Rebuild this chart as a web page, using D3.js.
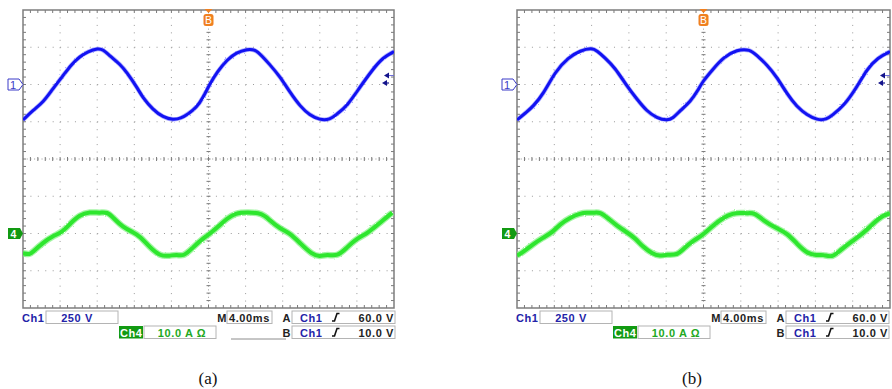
<!DOCTYPE html>
<html>
<head>
<meta charset="utf-8">
<script src="https://cdn.jsdelivr.net/npm/d3@7/dist/d3.min.js"></script>
<style>
  body { margin: 0; background: #fff; }
  svg { display: block; }
</style>
</head>
<body>
<script>
// time in ms across the 10 divisions (4.00 ms/div), Ch1 in V (250 V/div), Ch4 in A (10 A/div)
const aCh1 = [[0,-238],[1.1,-172],[2.2,-118],[3.2,-30],[4.2,50],[5.3,140],[6.1,186],[7.0,222],[8.1,242],[8.6,236],
  [9.4,190],[10.5,134],[11.2,81],[12.3,-20],[12.9,-87],[14.0,-168],[15.1,-220],[16.2,-238],[17.0,-228],[17.8,-198],
  [18.7,-155],[19.4,-90],[20.1,0],[21.0,90],[22.0,165],[23.0,215],[24.2,238],[25.0,236],[25.8,190],[26.6,134],
  [27.7,54],[28.8,-54],[29.9,-148],[30.9,-205],[32.0,-238],[33.1,-236],[33.8,-200],[34.9,-148],[36.3,-20],[37.7,101],
  [38.8,181],[40,221]];

const aCh4 = [[0,-5.3],[0.75,-5.7],[1.1,-4.8],[2.2,-2.4],[3.2,-0.7],[4.2,0.3],[5.1,2.7],[6.1,5.0],[7.2,5.8],[8.3,5.5],
  [9.1,5.8],[9.7,4.3],[10.8,1.6],[11.9,0.3],[12.6,-0.7],[13.7,-3.8],[14.8,-6.1],[15.8,-6.0],[16.6,-5.6],[17.3,-6.2],
  [18.3,-3.8],[19.4,-1.3],[20.2,0],[21.2,2.2],[22.0,4.0],[22.9,5.5],[24.2,5.7],[25.8,5.5],[26.6,3.5],[27.7,1.3],
  [28.8,0.1],[29.9,-2.7],[31.2,-5.7],[32.0,-6.2],[32.8,-5.6],[33.9,-6.2],[34.9,-3.8],[36.0,-1.3],[37.1,0],[37.7,1.3],
  [38.8,3.5],[39.8,5.6]];

const bCh1 = [[0,-238],[1.1,-181],[1.7,-148],[2.8,-67],[4.1,87],[5.5,181],[6.8,228],[8.0,246],[8.6,226],[9.4,181],
  [10.5,114],[11.8,-13],[12.9,-101],[13.9,-178],[15.0,-225],[16.1,-242],[16.7,-228],[17.5,-175],[18.6,-114],[19.4,-40],
  [19.9,20],[21.0,101],[22.1,181],[23.6,235],[25.0,236],[25.7,195],[26.8,134],[27.9,47],[29.0,-67],[30.0,-148],
  [31.1,-205],[32.2,-238],[33.2,-236],[33.8,-205],[35.0,-148],[36.5,-13],[37.5,101],[38.7,181],[40,221]];

const bCh4 = [[0,-5.9],[0.6,-5.1],[1.7,-2.9],[2.8,-1.1],[3.8,0.3],[4.6,2.5],[5.7,4.3],[6.8,5.4],[7.5,5.6],[8.2,5.5],
  [8.9,5.8],[9.8,4.0],[10.7,2.1],[11.8,0.3],[12.7,-1.3],[13.5,-3.6],[14.5,-5.4],[15.3,-6.1],[16.1,-5.6],[17.2,-5.8],
  [17.8,-4.2],[18.9,-1.9],[19.9,-0.5],[21.0,2.1],[22.1,4.3],[23.2,5.4],[23.9,5.6],[24.7,5.4],[25.5,5.6],[26.4,3.5],
  [27.9,1.3],[29.0,0],[30.0,-2.7],[31.1,-5.4],[32.2,-5.9],[32.8,-5.6],[33.8,-6.5],[34.6,-4.6],[36.0,-1.9],[37.1,0],
  [38.2,2.7],[39.2,4.8],[40,5.4]];

// readout labels
const ch1Scale = "250 V";
const ch4Scale = "10.0 A Ω";
const timeBase = "4.00ms";
const trigA = ["Ch1", "60.0 V"];
const trigB = ["Ch1", "10.0 V"];
const captions = ["(a)", "(b)"];

const W = 892, H = 389;
const Y0 = 10, Y1 = 308;
const panels = [
  {x0: 23, x1: 394, ch1: aCh1, ch4: aCh4, caption: captions[0], capX: 208, underline: true},
  {x0: 517, x1: 890, ch1: bCh1, ch4: bCh4, caption: captions[1], capX: 692, underline: false}
];

const svg = d3.select("body").append("svg").attr("width", W).attr("height", H);
const monoFont = "'Liberation Sans', Arial, sans-serif";
const navy = "#2323a8", grey = "#8c8c8c";

// fuzzy edge for the noisy traces
const fz = svg.append("defs").append("filter").attr("id", "fuzz")
  .attr("x", "-5%").attr("y", "-20%").attr("width", "110%").attr("height", "140%");
fz.append("feTurbulence").attr("type", "fractalNoise").attr("baseFrequency", 0.9).attr("numOctaves", 1)
  .attr("seed", 3).attr("result", "n");
fz.append("feDisplacementMap").attr("in", "SourceGraphic").attr("in2", "n").attr("scale", 2.5);

panels.forEach((p, i) => {
  const g = svg.append("g");
  const x = d3.scaleLinear().domain([0, 40]).range([p.x0, p.x1]);
  const yV = d3.scaleLinear().domain([500, -1500]).range([Y0, Y1]);
  const yA = d3.scaleLinear().domain([60, -20]).range([Y0, Y1]);
  const xMid = x(20), yMid = yV(-500);

  // dotted grid
  const vLines = d3.range(4, 40, 4).filter(t => t !== 20);
  const hLines = d3.range(250, -1500, -250).filter(v => v !== -500);
  const dotY = (yV(-250) - yV(0)) / 5, dotX = (x(4) - x(0)) / 5;
  g.selectAll(".vg").data(vLines).enter().append("line")
    .attr("x1", d => x(d)).attr("x2", d => x(d)).attr("y1", Y0).attr("y2", Y1)
    .attr("stroke", "#9a9a9a").attr("stroke-dasharray", `1 ${dotY - 1}`);
  g.selectAll(".hg").data(hLines).enter().append("line")
    .attr("y1", d => yV(d)).attr("y2", d => yV(d)).attr("x1", p.x0).attr("x2", p.x1)
    .attr("stroke", "#9a9a9a").attr("stroke-dasharray", `1 ${dotX - 1}`);

  // centre axes with minor ticks
  g.append("line").attr("x1", xMid).attr("x2", xMid).attr("y1", Y0).attr("y2", Y1)
    .attr("stroke", "#9a9a9a").attr("stroke-dasharray", `1 ${dotY / 2 - 1}`);
  g.append("line").attr("y1", yMid).attr("y2", yMid).attr("x1", p.x0).attr("x2", p.x1)
    .attr("stroke", "#9a9a9a").attr("stroke-dasharray", `1 ${dotX / 2 - 1}`);
  const minorT = d3.range(0.8, 40, 0.8);
  const minorV = d3.range(450, -1500, -50);
  g.selectAll(".mt").data(minorT).enter().append("line")
    .attr("x1", d => x(d)).attr("x2", d => x(d)).attr("y1", yMid - 2).attr("y2", yMid + 2)
    .attr("stroke", "#7a7a7a");
  g.selectAll(".mv").data(minorV).enter().append("line")
    .attr("y1", d => yV(d)).attr("y2", d => yV(d)).attr("x1", xMid - 2).attr("x2", xMid + 2)
    .attr("stroke", "#7a7a7a");
  // border ticks
  g.selectAll(".bt").data(minorT).enter().append("line")
    .attr("x1", d => x(d)).attr("x2", d => x(d)).attr("y1", Y0).attr("y2", Y0 + 3).attr("stroke", "#7a7a7a");
  g.selectAll(".bb").data(minorT).enter().append("line")
    .attr("x1", d => x(d)).attr("x2", d => x(d)).attr("y1", Y1 - 3).attr("y2", Y1).attr("stroke", "#7a7a7a");
  g.selectAll(".bl").data(minorV).enter().append("line")
    .attr("y1", d => yV(d)).attr("y2", d => yV(d)).attr("x1", p.x0).attr("x2", p.x0 + 3).attr("stroke", "#7a7a7a");
  g.selectAll(".br").data(minorV).enter().append("line")
    .attr("y1", d => yV(d)).attr("y2", d => yV(d)).attr("x1", p.x1 - 3).attr("x2", p.x1).attr("stroke", "#7a7a7a");

  g.append("rect").attr("x", p.x0).attr("y", Y0).attr("width", p.x1 - p.x0).attr("height", Y1 - Y0)
    .attr("fill", "none").attr("stroke", "#7d7d7d").attr("stroke-width", 1.5);

  // traces
  const clipId = "clip" + i;
  svg.append("clipPath").attr("id", clipId).append("rect")
    .attr("x", p.x0).attr("y", Y0).attr("width", p.x1 - p.x0).attr("height", Y1 - Y0);
  const tr = g.append("g").attr("clip-path", `url(#${clipId})`);
  const lineV = d3.line().x(d => x(d[0])).y(d => yV(d[1])).curve(d3.curveBasis);
  const lineA = d3.line().x(d => x(d[0])).y(d => yA(d[1])).curve(d3.curveBasis);
  tr.append("path").attr("d", lineV(p.ch1)).attr("fill", "none").attr("stroke", "#7b7bff")
    .attr("stroke-width", 4.5).attr("stroke-opacity", 0.6).attr("filter", "url(#fuzz)");
  tr.append("path").attr("d", lineV(p.ch1)).attr("fill", "none").attr("stroke", "#1212f2")
    .attr("stroke-width", 3);
  tr.append("path").attr("d", lineA(p.ch4)).attr("fill", "none").attr("stroke", "#86f286")
    .attr("stroke-width", 6.5).attr("stroke-opacity", 0.75).attr("filter", "url(#fuzz)");
  tr.append("path").attr("d", lineA(p.ch4)).attr("fill", "none").attr("stroke", "#2ee62e")
    .attr("stroke-width", 4);

  // channel ground markers
  const gy1 = yV(0), gy4 = yA(0);
  g.append("path").attr("d", `M${p.x0 - 15},${gy1 - 5.5}h11l4,5.5l-4,5.5h-11z`)
    .attr("fill", "#fff").attr("stroke", "#3b3bc8").attr("stroke-width", 1);
  g.append("text").attr("x", p.x0 - 10).attr("y", gy1 + 4).attr("text-anchor", "middle")
    .attr("font-family", monoFont).attr("font-size", 11).attr("fill", "#3b3bc8").text("1");
  g.append("path").attr("d", `M${p.x0 - 15},${gy4 - 5.5}h12l3,5.5l-3,5.5h-12z`).attr("fill", "#129a12");
  g.append("text").attr("x", p.x0 - 9.5).attr("y", gy4 + 4).attr("text-anchor", "middle")
    .attr("font-family", monoFont).attr("font-weight", "bold").attr("font-size", 10.5).attr("fill", "#fff").text("4");

  // trigger position marker
  g.append("path").attr("d", `M${xMid - 4},${Y0 - 1}h8l-4,4z`).attr("fill", "#f08020");
  g.append("rect").attr("x", xMid - 5).attr("y", Y0 + 4).attr("width", 10).attr("height", 12).attr("rx", 2.5)
    .attr("fill", "#f08020");
  g.append("text").attr("x", xMid).attr("y", Y0 + 14).attr("text-anchor", "middle")
    .attr("font-family", monoFont).attr("font-size", 10.5).attr("fill", "#fff").text("B");

  // trigger level arrows
  const la = yV(60), lb = yV(10);
  g.append("line").attr("x1", p.x1 - 6).attr("x2", p.x1).attr("y1", la).attr("y2", la)
    .attr("stroke", "#6a6ad8").attr("stroke-width", 1);
  g.append("path").attr("d", `M${p.x1 - 10},${la}l5,-3v6z`).attr("fill", "#14148c");
  g.append("line").attr("x1", p.x1 - 9).attr("x2", p.x1 - 5).attr("y1", lb).attr("y2", lb)
    .attr("stroke", "#14148c").attr("stroke-width", 1.2);
  g.append("path").attr("d", `M${p.x1 - 12},${lb}l5,-3v6z`).attr("fill", "#14148c");

  // readout
  const r1 = 311, r2 = 326, bh = 12.5;
  const tx = (xx, yy, s, col, anchor, weight) => g.append("text").attr("x", xx).attr("y", yy)
    .attr("text-anchor", anchor || "start").attr("font-family", monoFont).attr("font-size", 11)
    .attr("font-weight", weight || "bold").attr("letter-spacing", 0.6).attr("fill", col).text(s);
  const box = (xa, xb, yy) => g.append("rect").attr("x", xa).attr("y", yy).attr("width", xb - xa)
    .attr("height", bh).attr("fill", "#fff").attr("stroke", "#b4b4b4").attr("stroke-width", 1);
  const edge = (xx, yy) => g.append("path").attr("d", `M${xx - 4},${yy}h2.5l2.5,-7.5h2.5`)
    .attr("fill", "none").attr("stroke", "#111").attr("stroke-width", 1.6);
  const o = p.x0;
  tx(o - 1, r1 + 10.5, "Ch1", navy);
  box(o + 23, o + 95, r1);
  tx(o + 54, r1 + 10.5, ch1Scale, navy, "middle");
  tx(o + 204, r1 + 10.5, "M", "#222", "end");
  box(o + 204, o + 249, r1);
  tx(o + 206, r1 + 10.5, timeBase, "#222");
  tx(o + 268, r1 + 10.5, "A", "#222", "end");
  box(o + 269, o + 372, r1);
  tx(o + 277, r1 + 10.5, trigA[0], navy);
  edge(o + 313, r1 + 10);
  tx(o + 371, r1 + 10.5, trigA[1], "#222", "end");

  g.append("rect").attr("x", o + 96).attr("y", r2).attr("width", 24).attr("height", bh).attr("fill", "#129a12");
  tx(o + 97, r2 + 10.5, "Ch4", "#fff");
  box(o + 121, o + 193, r2);
  tx(o + 159, r2 + 10.5, ch4Scale, "#22a822", "middle");
  tx(o + 268, r2 + 10.5, "B", "#222", "end");
  box(o + 269, o + 372, r2);
  tx(o + 277, r2 + 10.5, trigB[0], navy);
  edge(o + 313, r2 + 10);
  tx(o + 371, r2 + 10.5, trigB[1], "#222", "end");
  if (p.underline) {
    g.append("line").attr("x1", o + 208).attr("x2", o + 263).attr("y1", 339).attr("y2", 339)
      .attr("stroke", grey).attr("stroke-width", 1);
  }

  // caption
  g.append("text").attr("x", p.capX).attr("y", 384).attr("text-anchor", "middle")
    .attr("font-family", "'Liberation Serif', 'Times New Roman', serif").attr("font-size", 17)
    .attr("fill", "#111").text(p.caption);
});
</script>
</body>
</html>
